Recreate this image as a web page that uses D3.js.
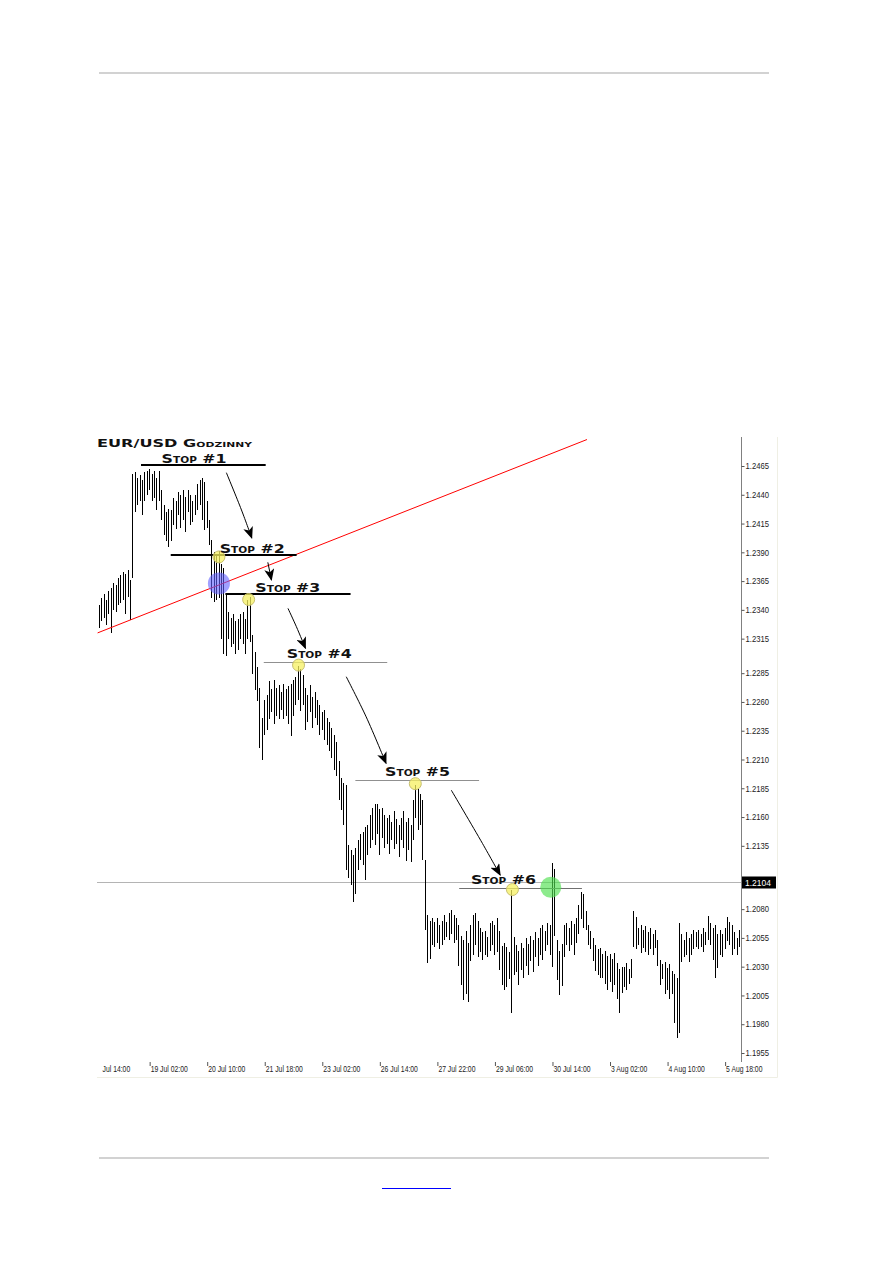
<!DOCTYPE html>
<html><head><meta charset="utf-8">
<script src="https://cdn.jsdelivr.net/npm/d3@7"></script>
<style>body{margin:0;background:#fff} svg{display:block}</style>
</head><body><svg id="c" width="893" height="1263"></svg>
<script>
// ---------- DATA ----------
const highs = [
1.2344,1.2350,1.2354,1.2349,1.2356,1.2359,1.2363,1.2362,1.2368,1.2370,
1.2373,1.2371,1.2375,1.2366,1.2458,1.2460,1.2455,1.2457,1.2453,1.2460,
1.2461,1.2462,1.2458,1.2461,1.2455,1.2461,1.2444,1.2431,1.2425,1.2428,
1.2427,1.2437,1.2435,1.2442,1.2440,1.2444,1.2438,1.2444,1.2440,1.2435,
1.2440,1.2449,1.2453,1.2455,1.2451,1.2435,1.2418,1.2401,1.2390,1.2388,
1.2391,1.2380,1.2376,1.2355,1.2338,1.2333,1.2336,1.2330,1.2332,1.2336,
1.2338,1.2332,1.2349,1.2351,1.2318,1.2303,1.2290,1.2272,1.2246,1.2262,
1.2266,1.2278,1.2271,1.2279,1.2272,1.2275,1.2269,1.2276,1.2271,1.2274,
1.2276,1.2279,1.2282,1.2291,1.2289,1.2283,1.2272,1.2266,1.2275,1.2264,
1.2269,1.2262,1.2257,1.2251,1.2253,1.2246,1.2243,1.2237,1.2231,1.2225,
1.2209,1.2194,1.2190,1.2188,1.2136,1.2131,1.2127,1.2133,1.2140,1.2145,
1.2147,1.2151,1.2153,1.2162,1.2168,1.2171,1.2171,1.2167,1.2168,1.2162,
1.2159,1.2162,1.2156,1.2165,1.2158,1.2153,1.2159,1.2165,1.2156,1.2159,
1.2153,1.2175,1.2188,1.2184,1.2180,1.2175,1.2123,1.2075,1.2070,1.2072,
1.2069,1.2072,1.2066,1.2070,1.2075,1.2069,1.2077,1.2079,1.2075,1.2072,
1.2066,1.2057,1.2053,1.2061,1.2051,1.2066,1.2075,1.2077,1.2070,1.2064,
1.2060,1.2061,1.2056,1.2068,1.2070,1.2066,1.2072,1.2061,1.2048,1.2051,
1.2047,1.2043,1.2097,1.2056,1.2049,1.2044,1.2051,1.2046,1.2055,1.2050,
1.2057,1.2053,1.2060,1.2055,1.2064,1.2066,1.2061,1.2068,1.2066,1.2120,
1.2115,1.2053,1.2044,1.2050,1.2066,1.2068,1.2064,1.2070,1.2067,1.2072,
1.2084,1.2095,1.2093,1.2078,1.2066,1.2061,1.2055,1.2049,1.2045,1.2046,
1.2041,1.2044,1.2039,1.2041,1.2037,1.2042,1.2033,1.2028,1.2030,1.2030,
1.2033,1.2028,1.2037,1.2078,1.2073,1.2064,1.2066,1.2062,1.2065,1.2060,
1.2064,1.2058,1.2062,1.2053,1.2036,1.2032,1.2034,1.2029,1.2032,1.2026,
1.2024,1.2020,1.2068,1.2058,1.2053,1.2060,1.2055,1.2058,1.2062,1.2060,
1.2062,1.2058,1.2064,1.2060,1.2074,1.2068,1.2064,1.2066,1.2058,1.2062,
1.2058,1.2064,1.2073,1.2069,1.2066,1.2060,1.2055,1.2062
];
const lows = [
1.2324,1.2330,1.2333,1.2327,1.2336,1.2320,1.2340,1.2338,1.2344,1.2346,
1.2349,1.2336,1.2351,1.2331,1.2368,1.2425,1.2431,1.2435,1.2422,1.2435,
1.2440,1.2444,1.2435,1.2437,1.2427,1.2435,1.2418,1.2405,1.2400,1.2395,
1.2400,1.2414,1.2410,1.2422,1.2411,1.2418,1.2408,1.2425,1.2414,1.2416,
1.2422,1.2427,1.2431,1.2418,1.2409,1.2411,1.2396,1.2350,1.2347,1.2349,
1.2350,1.2315,1.2302,1.2300,1.2315,1.2308,1.2310,1.2302,1.2305,1.2315,
1.2310,1.2302,1.2315,1.2312,1.2284,1.2270,1.2261,1.2220,1.2210,1.2231,
1.2236,1.2245,1.2251,1.2241,1.2248,1.2245,1.2253,1.2245,1.2248,1.2241,
1.2230,1.2248,1.2257,1.2262,1.2252,1.2257,1.2236,1.2243,1.2251,1.2237,
1.2246,1.2240,1.2231,1.2236,1.2227,1.2223,1.2217,1.2211,1.2201,1.2196,
1.2175,1.2166,1.2153,1.2114,1.2107,1.2101,1.2086,1.2093,1.2114,1.2123,
1.2118,1.2105,1.2127,1.2133,1.2140,1.2136,1.2145,1.2127,1.2142,1.2133,
1.2137,1.2128,1.2140,1.2132,1.2137,1.2125,1.2140,1.2133,1.2122,1.2131,
1.2121,1.2140,1.2159,1.2149,1.2153,1.2123,1.2062,1.2033,1.2037,1.2049,
1.2047,1.2051,1.2045,1.2049,1.2053,1.2056,1.2053,1.2058,1.2051,1.2053,
1.2031,1.2014,1.2001,1.2006,1.1999,1.2035,1.2040,1.2049,1.2038,1.2043,
1.2036,1.2040,1.2038,1.2044,1.2049,1.2040,1.2043,1.2027,1.2014,1.2010,
1.2012,1.2019,1.1990,1.2023,1.2025,1.2014,1.2027,1.2020,1.2031,1.2023,
1.2035,1.2025,1.2038,1.2031,1.2040,1.2036,1.2044,1.2049,1.2040,1.2030,
1.2057,1.2018,1.2005,1.2013,1.2038,1.2049,1.2044,1.2049,1.2040,1.2051,
1.2058,1.2071,1.2064,1.2062,1.2049,1.2045,1.2035,1.2026,1.2023,1.2020,
1.2020,1.2015,1.2010,1.2017,1.2008,1.2014,1.2002,1.1990,1.2007,1.2012,
1.2010,1.2015,1.2020,1.2047,1.2045,1.2049,1.2042,1.2046,1.2043,1.2040,
1.2045,1.2040,1.2046,1.2031,1.2014,1.2019,1.2006,1.2010,1.2002,1.2006,
1.1981,1.1968,1.1972,1.2034,1.2038,1.2040,1.2034,1.2040,1.2045,1.2047,
1.2045,1.2047,1.2043,1.2049,1.2053,1.2049,1.2036,1.2020,1.2029,1.2040,
1.2038,1.2045,1.2052,1.2049,1.2040,1.2045,1.2040,1.2047
];
const yTicks = [1.2465,1.2440,1.2415,1.2390,1.2365,1.2340,1.2315,1.2285,1.2260,1.2235,
  1.2210,1.2185,1.2160,1.2135,1.2080,1.2055,1.2030,1.2005,1.1980,1.1955];
const xTickIdx = [-3,21,45,69,93,117,141,165,189,213,237,261];
const xTickLabels = ["17 Jul 14:00","19 Jul 02:00","20 Jul 10:00","21 Jul 18:00","23 Jul 02:00",
  "26 Jul 14:00","27 Jul 22:00","29 Jul 06:00","30 Jul 14:00","3 Aug 02:00","4 Aug 10:00","5 Aug 18:00"];
const title = "EUR/USD Godzinny";
const currentPrice = 1.2104;
const trendIdx = [-0.5, 203.6];
const trendPrice = [1.2320, 1.2488];
const stopLabels = ["Stop #1","Stop #2","Stop #3","Stop #4","Stop #5","Stop #6"];
const stopPrice = [1.2466, 1.2388, 1.2354, 1.2295, 1.2192, 1.2098];
const stopFrom = [17.6, 30.0, 52.8, 68.8, 107.0, 150.3];
const stopTo = [69.6, 82.5, 105.0, 120.3, 158.6, 201.5];
const stopTextIdx = [26.2, 50.4, 65.3, 78.4, 119.4, 155.2];
const hitIdx = [50.1, 62.5, 83.3, 132.0, 172.5];
const hitPrice = [1.2386, 1.2349, 1.2292, 1.2189, 1.2097];
const entryPoint = [50.1, 1.2363];
const exitPoint = [188.5, 1.2099];
const arrows = [
  [[53.2,1.24592],[59.5,1.24268],[63.8,1.24024]],
  [[70.5,1.23813],[72.0,1.23659]],
  [[78.9,1.23413],[82.4,1.23254],[86.2,1.23066]],
  [[103.2,1.22819],[111.5,1.22471],[119.8,1.22066]],
  [[147.0,1.21834],[160.0,1.21371],[167.4,1.21096]]
];

// ---------- DRAW ----------
const svg = d3.select("#c");
const L = 97, R = 741, T = 437, B = 1062;
const x = d3.scaleLinear().domain([0, highs.length - 1]).range([98.8, 739]);
const y = d3.scaleLinear().domain([1.1955, 1.2465]).range([1053, 466]);

// page decoration
svg.append("rect").attr("x",99).attr("y",72).attr("width",670).attr("height",2).attr("fill","#d2d2d2");
svg.append("rect").attr("x",99).attr("y",1157).attr("width",670).attr("height",2).attr("fill","#d2d2d2");
svg.append("line").attr("x1",382).attr("x2",451).attr("y1",1188.5).attr("y2",1188.5).attr("stroke","#0000ff");

// chart frame (faint)
svg.append("path").attr("d",`M${777.5},${T} V${1077.5} H${L}`).attr("fill","none").attr("stroke","#efefe4");

const defs = svg.append("defs");
defs.append("clipPath").attr("id","plot").append("rect").attr("x",L).attr("y",T).attr("width",R-L).attr("height",B-T);
defs.append("clipPath").attr("id","xlab").append("rect").attr("x",101).attr("y",B).attr("width",700).attr("height",20);
defs.append("marker").attr("id","ah").attr("markerUnits","userSpaceOnUse")
  .attr("viewBox","0 0 12 10").attr("refX",11).attr("refY",5).attr("markerWidth",12).attr("markerHeight",10)
  .attr("orient","auto")
  .append("path").attr("d","M0,0 L12,5 L0,10 L3,5 Z").attr("fill","#000");

const plot = svg.append("g").attr("clip-path","url(#plot)");

// current price line
plot.append("line").attr("x1",L).attr("x2",R).attr("y1",Math.round(y(currentPrice))+0.5).attr("y2",Math.round(y(currentPrice))+0.5)
  .attr("stroke","#b4b4b4");

// bars
plot.append("g").selectAll("line").data(highs).join("line")
  .attr("x1",(d,i)=>Math.round(x(i))+0.5).attr("x2",(d,i)=>Math.round(x(i))+0.5)
  .attr("y1",d=>y(d)).attr("y2",(d,i)=>y(lows[i]))
  .attr("stroke","#000").attr("stroke-width",1).attr("shape-rendering","crispEdges");

// trendline
plot.append("line").attr("x1",x(trendIdx[0])).attr("y1",y(trendPrice[0]))
  .attr("x2",x(trendIdx[1])).attr("y2",y(trendPrice[1])).attr("stroke","#ff0000").attr("stroke-width",1);

// stop lines
stopLabels.forEach((s,k)=>{
  const heavy = k < 3;
  const yy = Math.round(y(stopPrice[k])) + (heavy ? 0 : 0.5);
  plot.append("line").attr("x1",x(stopFrom[k])).attr("x2",x(stopTo[k])).attr("y1",yy).attr("y2",yy)
    .attr("stroke", heavy ? "#000" : (k===5 ? "#707070" : "#909090")).attr("stroke-width", heavy ? 2 : 1);
  svg.append("text").attr("x",x(stopTextIdx[k])).attr("y",yy - (heavy ? 2 : 5))
    .attr("font-family","DejaVu Sans").attr("font-weight","bold").attr("font-size","12px")
    .style("font-variant","small-caps").attr("textLength",65).attr("lengthAdjust","spacingAndGlyphs")
    .attr("fill","#111").text(s);
});

// hit circles
plot.append("g").selectAll("circle").data(hitIdx).join("circle")
  .attr("cx",d=>x(d)).attr("cy",(d,i)=>y(hitPrice[i])).attr("r",6)
  .attr("fill","#f6f060").attr("fill-opacity",0.75).attr("stroke","#c8c070").attr("stroke-width",1);
plot.append("circle").attr("cx",x(entryPoint[0])).attr("cy",y(entryPoint[1])).attr("r",11)
  .attr("fill","#6060ff").attr("fill-opacity",0.6);
plot.append("circle").attr("cx",x(exitPoint[0])).attr("cy",y(exitPoint[1])).attr("r",10.5)
  .attr("fill","#50e050").attr("fill-opacity",0.65);

// arrows
const ln = d3.line().x(d=>x(d[0])).y(d=>y(d[1])).curve(d3.curveCatmullRom);
svg.append("g").selectAll("path").data(arrows).join("path")
  .attr("d",ln).attr("fill","none").attr("stroke","#000").attr("stroke-width",1)
  .attr("marker-end","url(#ah)");

// title
svg.append("text").attr("x",97).attr("y",447).attr("font-family","DejaVu Sans").attr("font-weight","bold")
  .attr("font-size","10.5px").style("font-variant","small-caps").attr("textLength",155)
  .attr("lengthAdjust","spacingAndGlyphs").attr("fill","#111").text(title);

// narrow pixel-font look for axis labels
function narrow(sel, f){
  sel.each(function(){ const w = this.getComputedTextLength(); d3.select(this).attr("textLength", w*f).attr("lengthAdjust","spacingAndGlyphs"); });
}

// y axis
svg.append("line").attr("x1",R+0.5).attr("x2",R+0.5).attr("y1",T).attr("y2",B).attr("stroke","#808080");
const ya = svg.append("g").attr("transform",`translate(${R+0.5},0)`)
  .call(d3.axisRight(y).tickValues(yTicks).tickSize(3).tickPadding(1).tickFormat(d3.format(".4f")));
ya.select(".domain").remove();
ya.selectAll("line").attr("stroke","#555");
ya.selectAll("text").attr("font-family","Liberation Sans").attr("font-size","8.5px").attr("fill","#222");
narrow(ya.selectAll("text"), 0.9);

// price tag
const py = y(currentPrice);
svg.append("rect").attr("x",R+1).attr("y",Math.round(py)-5.5).attr("width",34).attr("height",12).attr("fill","#000");
svg.append("text").attr("x",R+4).attr("y",Math.round(py)+3.5).attr("font-family","Liberation Sans").attr("font-size","8.5px")
  .attr("fill","#fff").text(d3.format(".4f")(currentPrice));

// x axis (clipped at left edge of the chart)
const xwrap = svg.append("g").attr("clip-path","url(#xlab)");
const xa = xwrap.append("g").attr("transform",`translate(0,${B})`)
  .call(d3.axisBottom(x).tickValues(xTickIdx).tickSize(4).tickFormat((d,k)=>xTickLabels[k]));
xa.select(".domain").remove();
xa.selectAll(".tick line").attr("stroke","#555").attr("transform","translate(0.5,0)");
xa.selectAll("text").attr("text-anchor","start").attr("dx","1").attr("dy","0.3em")
  .attr("font-family","Liberation Sans").attr("font-size","8.5px").attr("fill","#222");
narrow(xa.selectAll("text"), 0.8);
</script></body></html>
